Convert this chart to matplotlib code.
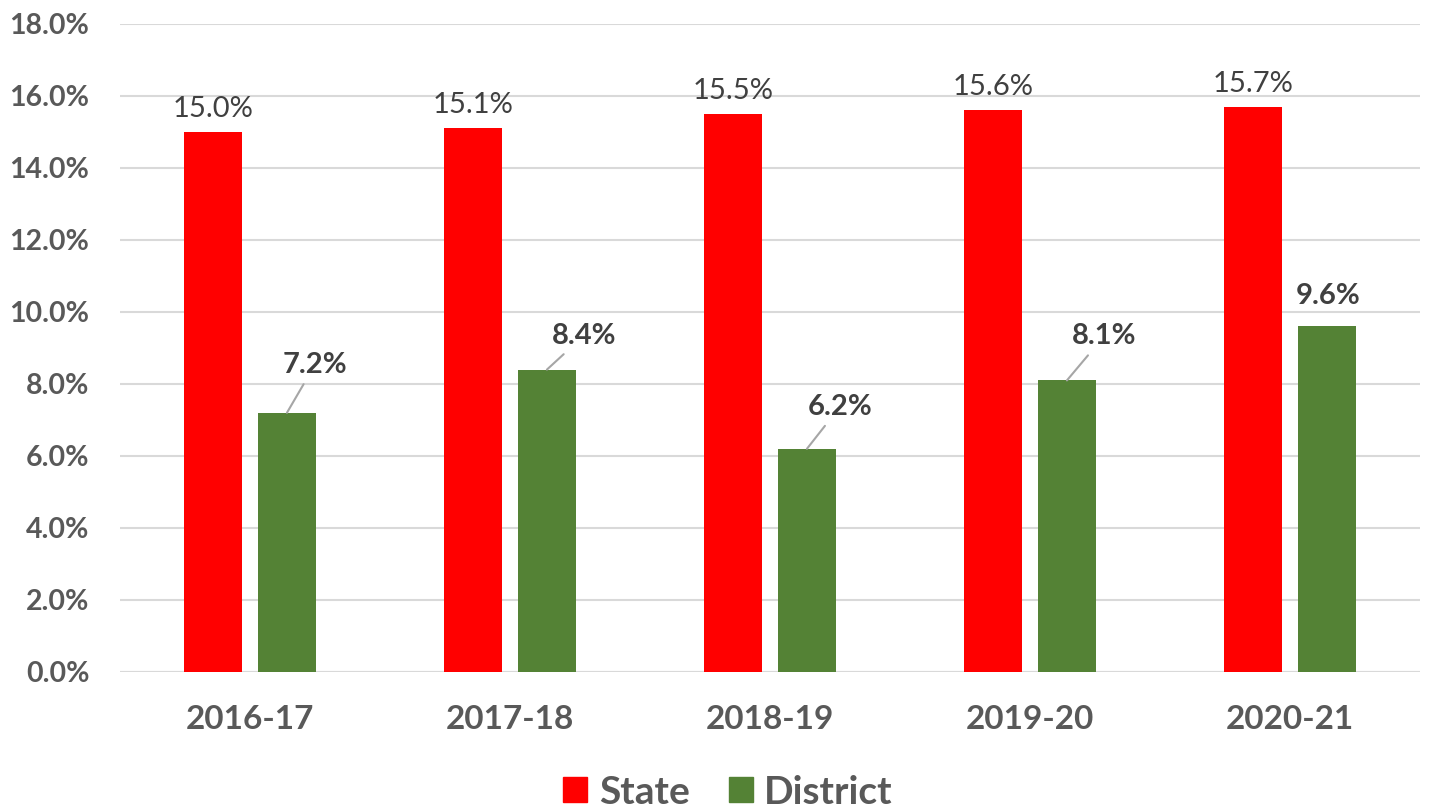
import matplotlib
matplotlib.use("Agg")
import matplotlib.pyplot as plt
from matplotlib.patches import Patch
import numpy as np

plt.rcParams['font.family'] = ['Lato', 'DejaVu Sans']

categories = ["2016-17", "2017-18", "2018-19", "2019-20", "2020-21"]
state = [15.0, 15.1, 15.5, 15.6, 15.7]
district = [7.2, 8.4, 6.2, 8.1, 9.6]
yticks = [0, 2, 4, 6, 8, 10, 12, 14, 16, 18]

RED = "#FF0000"
GREEN = "#548235"
GRID = "#D9D9D9"
TICK = "#595959"
LAB = "#404040"

W, H = 1451, 811
fig = plt.figure(figsize=(W / 100, H / 100), dpi=100)
ax = fig.add_axes([120 / W, (H - 672) / H, 1300 / W, (672 - 24) / H])

x = np.arange(len(categories))
bw = 0.223
off = 0.142
ax.bar(x - off, state, width=bw, color=RED, zorder=3)
ax.bar(x + off, district, width=bw, color=GREEN, zorder=3)

ax.set_xlim(-0.5, len(categories) - 0.5)
ax.set_ylim(0, 18)
ax.set_yticks(yticks)
ax.set_yticklabels([f"{v:.1f}%" for v in yticks])
ax.set_xticks(x)
ax.set_xticklabels(categories)
ax.grid(axis='y', color=GRID, linewidth=1.5, zorder=0)
ax.set_axisbelow(True)
for s in ax.spines.values():
    s.set_visible(False)
ax.axhline(0, color=GRID, linewidth=1.5, zorder=1)

ax.tick_params(axis='y', length=0, pad=22, labelsize=20.5, labelcolor=TICK)
ax.tick_params(axis='x', length=0, pad=24, labelsize=24, labelcolor=TICK)
for t in ax.get_yticklabels() + ax.get_xticklabels():
    t.set_fontweight('bold')

# state labels
for xi, v in zip(x, state):
    ax.annotate(f"{v:.1f}%", (xi - off, v), xytext=(0, 10 * 0.72), textcoords='offset points',
                ha='center', va='bottom', fontsize=21, color=LAB)

# district labels (pixel offsets from bar top)
doffs = [(28, 48), (37, 34), (33, 42), (37, 44), (1, 30)]
lines = [True, True, True, True, False]
for xi, v, (dx, dy), ln in zip(x, district, doffs, lines):
    kw = {}
    if ln:
        kw['arrowprops'] = dict(arrowstyle='-', color='#A6A6A6', lw=1.5,
                                shrinkA=3, shrinkB=0, relpos=(0.5, 0.5))
    ax.annotate(f"{v:.1f}%", (xi + off, v), xytext=(dx * 0.72, dy * 0.72),
                textcoords='offset points', ha='center', va='center',
                fontsize=21, fontweight='bold', color=LAB, **kw)

handles = [Patch(color=RED, label="State"), Patch(color=GREEN, label="District")]
leg = fig.legend(handles=handles, loc='center', bbox_to_anchor=(728 / W, 1 - 792 / H),
                 ncol=2, frameon=False, handlelength=0.62, handleheight=0.62,
                 handletextpad=0.3, columnspacing=1.0,
                 prop={'size': 28, 'weight': 'bold'})
for t in leg.get_texts():
    t.set_color(TICK)

fig.savefig("out.png", dpi=100)
